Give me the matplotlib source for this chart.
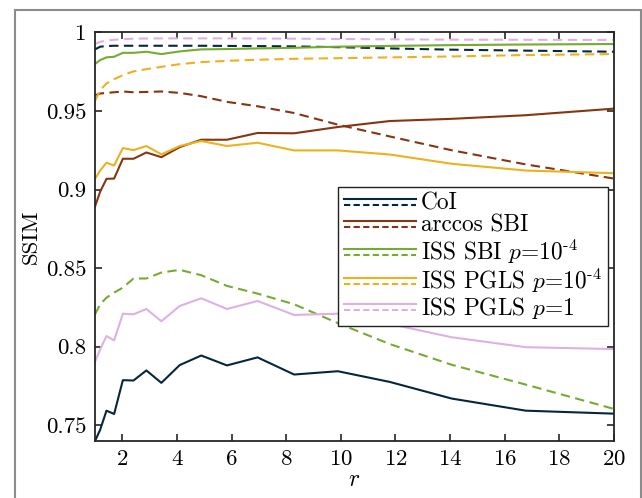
#!/usr/bin/env python3
"""SSIM against r for the solid/dashed pairs of five methods."""

import matplotlib

matplotlib.use("Agg")
import matplotlib.pyplot as plt
from matplotlib.legend_handler import HandlerBase
from matplotlib.lines import Line2D
from matplotlib.patches import Rectangle
from matplotlib.ticker import FormatStrFormatter

# sampled r values
r = [1, 1.19, 1.42, 1.70, 2.02, 2.41, 2.88, 3.43, 4.10, 4.89,
     5.83, 6.95, 8.29, 9.89, 11.79, 14.06, 16.77, 20]

# solid curves
coi_solid = [0.740, 0.7472, 0.7593, 0.7572, 0.7787, 0.7785, 0.7849, 0.7770, 0.7883, 0.7944,
             0.7881, 0.7932, 0.7823, 0.7844, 0.7776, 0.7670, 0.7593, 0.7574]
arccos_solid = [0.8892, 0.8987, 0.9068, 0.9070, 0.9196, 0.9196, 0.9236, 0.9206, 0.9270, 0.9317,
                0.9317, 0.9360, 0.9358, 0.9398, 0.9436, 0.9450, 0.9473, 0.9515]
sbi_solid = [0.9799, 0.9824, 0.9841, 0.9845, 0.9870, 0.9870, 0.9877, 0.9862, 0.9879, 0.9892,
             0.9894, 0.9898, 0.9902, 0.9909, 0.9914, 0.9919, 0.9923, 0.9926]
pgls_solid = [0.9068, 0.9121, 0.9171, 0.9153, 0.9264, 0.9251, 0.9277, 0.9224, 0.9277, 0.9309,
              0.9277, 0.9298, 0.9249, 0.9249, 0.9223, 0.9164, 0.9121, 0.9104]
pgls1_solid = [0.7904, 0.7983, 0.8068, 0.8040, 0.8210, 0.8206, 0.8240, 0.8162, 0.8259, 0.8308,
               0.8240, 0.8291, 0.8202, 0.8210, 0.8145, 0.8060, 0.7997, 0.7985]

# dashed curves
coi_dashed = [0.9892, 0.9909, 0.9913, 0.9915, 0.9915, 0.9915, 0.9915, 0.9915, 0.9915, 0.9915,
              0.9914, 0.9913, 0.9911, 0.9906, 0.9898, 0.9890, 0.9884, 0.9877]
arccos_dashed = [0.9600, 0.9611, 0.9615, 0.9619, 0.9624, 0.9619, 0.9621, 0.9624, 0.9615, 0.9594,
                 0.9558, 0.9530, 0.9487, 0.9413, 0.9338, 0.9250, 0.9160, 0.9070]
sbi_dashed = [0.8206, 0.8270, 0.8312, 0.8344, 0.8376, 0.8434, 0.8434, 0.8472, 0.8489, 0.8455,
              0.8387, 0.8338, 0.8270, 0.8150, 0.8017, 0.7885, 0.7759, 0.7604]
pgls_dashed = [0.9564, 0.9632, 0.9675, 0.9702, 0.9728, 0.9752, 0.9766, 0.9781, 0.9798, 0.9811,
               0.9819, 0.9826, 0.9832, 0.9836, 0.9841, 0.9847, 0.9856, 0.9862]
pgls1_dashed = [0.9926, 0.9940, 0.9948, 0.9953, 0.9957, 0.9960, 0.9961, 0.9962, 0.9962, 0.9962,
                0.9962, 0.9961, 0.9960, 0.9958, 0.9956, 0.9954, 0.9953, 0.9952]

labels = [
    "CoI",
    "arccos SBI",
    r"ISS SBI $p$=10$^{\text{-}4}$",
    r"ISS PGLS $p$=10$^{\text{-}4}$",
    r"ISS PGLS $p$=1",
]
colors = ["#06263f", "#873510", "#76ab2f", "#eeb11e", "#deb0e6"]
solids = [coi_solid, arccos_solid, sbi_solid, pgls_solid, pgls1_solid]
dashes = [coi_dashed, arccos_dashed, sbi_dashed, pgls_dashed, pgls1_dashed]

LW = 1.5
DASH = (4.5, 2.6)


class HandlerStacked(HandlerBase):
    """Solid line above, dashed line below, as one legend key."""

    def create_artists(self, legend, orig_handle, xdescent, ydescent,
                       width, height, fontsize, trans):
        color = orig_handle[0].get_color()
        out = []
        for frac, dashed in ((0.64, False), (0.30, True)):
            y = height * frac - ydescent
            ln = Line2D([-xdescent, width - xdescent], [y, y], color=color, lw=LW)
            if dashed:
                ln.set_dashes((3.0, 1.6))
            ln.set_transform(trans)
            out.append(ln)
        return out


plt.rcParams["font.family"] = "serif"
plt.rcParams["font.serif"] = ["cmr10", "DejaVu Serif"]
plt.rcParams["mathtext.fontset"] = "cm"
plt.rcParams["axes.formatter.use_mathtext"] = True

fig = plt.figure(figsize=(6.42, 4.98), dpi=100)
ax = fig.add_axes([95 / 642, 1 - 441 / 498, 519 / 642, (441 - 32.4) / 498])

handles = []
for col, ys, yd in zip(colors, solids, dashes):
    h1, = ax.plot(r, ys, color=col, lw=LW)
    h2, = ax.plot(r, yd, color=col, lw=LW, dashes=DASH)
    handles.append((h1, h2))

ax.set_xlim(1, 20)
ax.set_ylim(0.74, 1.0)
ax.set_xticks(range(2, 21, 2))
ax.set_yticks([0.75, 0.8, 0.85, 0.9, 0.95, 1.0])
ax.yaxis.set_major_formatter(FormatStrFormatter("%g"))
ax.tick_params(direction="in", top=True, right=True, length=5, width=1.2,
               labelsize=16.5, color="#262626", pad=6)
for sp in ax.spines.values():
    sp.set_linewidth(1.3)
    sp.set_color("#262626")

ax.set_xlabel(r"$r$", fontsize=17, labelpad=0)
ax.set_ylabel("SSIM", fontsize=16.5, labelpad=4)

ax.legend(handles, labels, handler_map={tuple: HandlerStacked()},
          loc="upper right", bbox_to_anchor=(0.988, 0.622), borderaxespad=0,
          fontsize=16.8, handlelength=3.1, handletextpad=0.2, labelspacing=0.0,
          borderpad=0.25, fancybox=False, framealpha=1, edgecolor="#222222")
ax.get_legend().get_frame().set_linewidth(1.0)

# light grey frame round the whole figure, cut off at the bottom
fig.patches.append(Rectangle((15 / 642, -0.05), (641 - 15) / 642, 1 - 10 / 498 + 0.05,
                             transform=fig.transFigure, fill=False,
                             edgecolor="#8c8c8c", lw=1.5))

fig.savefig("out.png", dpi=100)
